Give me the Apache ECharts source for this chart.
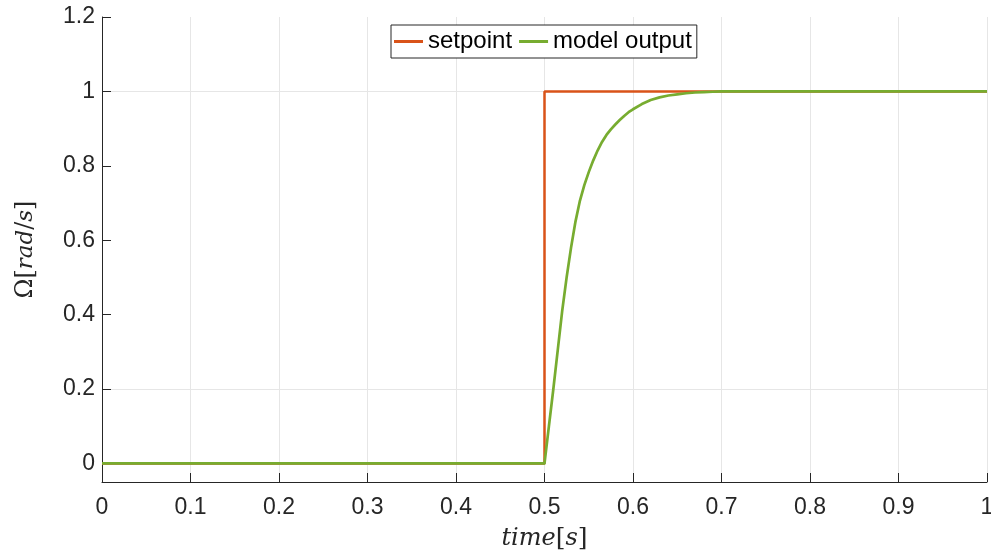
<!DOCTYPE html>
<html><head><meta charset="utf-8">
<script src="https://cdn.jsdelivr.net/npm/echarts@6/dist/echarts.min.js"></script>
<style>html,body{margin:0;padding:0;background:#fff}#c{width:991px;height:554px}</style>
</head><body><div id="c"></div>
<script>
const setpointT = [0, 0.5, 0.5, 1];
const setpointV = [0, 0, 1, 1];
const modelT = [0, 0.5, 0.505, 0.51, 0.515, 0.52, 0.525, 0.53, 0.535, 0.54, 0.545, 0.55, 0.555, 0.56, 0.565, 0.57, 0.575, 0.58, 0.585, 0.59, 0.595, 0.60, 0.61, 0.62, 0.63, 0.64, 0.65, 0.66, 0.67, 0.68, 0.69, 0.70, 0.72, 1.0];
const modelV = [0, 0, 0.10, 0.20, 0.305, 0.41, 0.50, 0.58, 0.650, 0.706, 0.748, 0.783, 0.814, 0.841, 0.864, 0.883, 0.898, 0.911, 0.923, 0.934, 0.944, 0.952, 0.966, 0.977, 0.984, 0.989, 0.992, 0.995, 0.997, 0.998, 0.999, 1.0, 1.0, 1.0];
const yTicks = [0, 0.2, 0.4, 0.6, 0.8, 1, 1.2];
const seriesNames = ['setpoint', 'model output'];

const chart = echarts.init(document.getElementById('c'));
const axisCol = '#262626';
const sans = 'Liberation Sans';
chart.setOption({
  animation: false,
  grid: {left: 102, right: 4, top: 17, bottom: 72, outerBoundsMode: 'none', containLabel: false},
  legend: {
    top: 25, left: 391, orient: 'horizontal',
    borderColor: '#262626', borderWidth: 1, padding: [4, 5, 4, 3],
    itemWidth: 29, itemHeight: 3, itemGap: 7, icon: 'rect',
    backgroundColor: '#fff',
    textStyle: {fontFamily: sans, fontSize: 24, lineHeight: 25, color: '#000'},
    data: seriesNames
  },
  xAxis: {
    type: 'value', min: 0, max: 1, interval: 0.1,
    name: '{i|time}{n|[}{i|s}{n|]}', nameLocation: 'middle', nameGap: 44,
    nameTextStyle: {rich: {
      i: {fontFamily: 'DejaVu Serif', fontStyle: 'italic', fontSize: 24, color: axisCol},
      n: {fontFamily: 'DejaVu Serif', fontSize: 25, color: axisCol}
    }},
    axisLine: {onZero: false, lineStyle: {color: axisCol, width: 1}},
    axisTick: {inside: true, length: 9, lineStyle: {color: axisCol}},
    axisLabel: {fontFamily: sans, fontSize: 23, color: axisCol, margin: 14,
      formatter: v => String(+v.toFixed(1))},
    splitLine: {show: true, lineStyle: {color: '#e6e6e6', width: 1}}
  },
  yAxis: {
    type: 'value', min: -0.05, max: 1.2, interval: 0.05,
    name: '{n|Ω[}{i|rad}{n|/}{i|s}{n|]}', nameLocation: 'middle', nameGap: 64, nameRotate: 90,
    nameTextStyle: {rich: {
      i: {fontFamily: 'DejaVu Serif', fontStyle: 'italic', fontSize: 23, color: axisCol},
      n: {fontFamily: 'DejaVu Serif', fontSize: 24, color: axisCol}
    }},
    axisLine: {show: true, onZero: false, lineStyle: {color: axisCol, width: 1}},
    axisTick: {show: true, inside: true, length: 9, lineStyle: {color: axisCol}, customValues: yTicks},
    axisLabel: {fontFamily: sans, fontSize: 23, color: axisCol, margin: 7,
      customValues: yTicks, formatter: v => String(+v.toFixed(1))},
    splitLine: {show: true, lineStyle: {color: ['rgba(0,0,0,0)', '#e6e6e6', 'rgba(0,0,0,0)', 'rgba(0,0,0,0)'], width: 1}}
  },
  series: [
    {name: seriesNames[0], type: 'line', showSymbol: false, symbol: 'none', clip: false,
     color: '#D95319', lineStyle: {width: 2.5, color: '#D95319'},
     data: setpointT.map((t, i) => [t, setpointV[i]])},
    {name: seriesNames[1], type: 'line', showSymbol: false, symbol: 'none', clip: false,
     color: '#77AC30', lineStyle: {width: 2.7, color: '#77AC30', join: 'round'},
     data: modelT.map((t, i) => [t, modelV[i]])}
  ]
});
</script></body></html>
